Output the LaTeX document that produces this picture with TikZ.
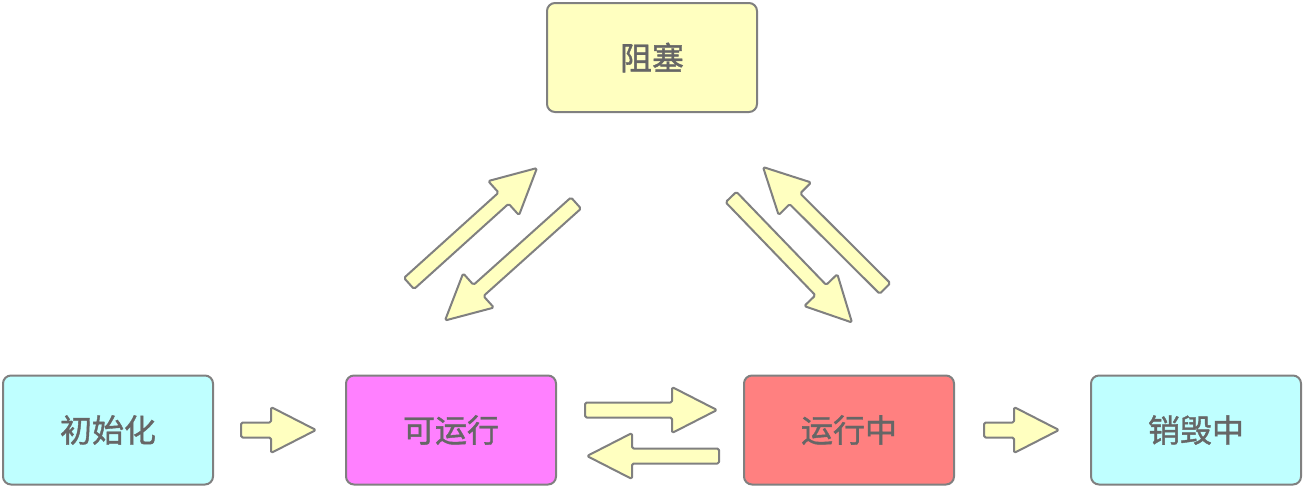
\documentclass[tikz,border=0pt]{standalone}
\usepackage{fontspec}
\newfontfamily\cjk[FakeBold=1.2]{Noto Sans CJK SC}
\usepackage{tikz}
\usetikzlibrary{calc}
\definecolor{stline}{HTML}{808080}
\definecolor{sttext}{HTML}{666666}
\definecolor{styellow}{HTML}{FFFFC0}
\definecolor{stcyan}{HTML}{BFFFFF}
\definecolor{stpink}{HTML}{FF80FF}
\definecolor{stred}{HTML}{FF8080}

% fat arrow from #1 to #2
\newcommand{\fatarrow}[2]{%
  \coordinate (hb) at ($(#2)!22.5pt!(#1)$);
  \draw[fatarr] ($(#1)!3.75pt!90:(#2)$) -- ($(hb)!3.75pt!90:(#2)$)
    -- ($(hb)!11.5pt!90:(#2)$) -- (#2) -- ($(hb)!11.5pt!-90:(#2)$)
    -- ($(hb)!3.75pt!-90:(#2)$) -- ($(#1)!3.75pt!-90:(#2)$) -- cycle;
}

\begin{document}
\begin{tikzpicture}[
  x=0.5pt, y=-0.5pt,
  state/.style={draw=stline, line width=1pt, rounded corners=4pt, minimum width=105pt, minimum height=54.5pt, font=\cjk\fontsize{16}{19}\selectfont, text=sttext},
  fatarr/.style={draw=stline, line width=1pt, fill=styellow, line join=round, rounded corners=0.8pt}
]
\useasboundingbox (0,0) rectangle (1304,488);

% States
\node[state, fill=styellow] (block) at (652,57.5) {阻塞};
\node[state, fill=stcyan] (init) at (108,430) {初始化};
\node[state, fill=stpink] (ready) at (451,430) {可运行};
\node[state, fill=stred] (running) at (849,430) {运行中};
\node[state, fill=stcyan] (destroy) at (1196,430) {销毁中};

% Arrow ends
\coordinate (a1s) at ($(init.east)+(27,0)$);
\coordinate (a1e) at ($(ready.west)+(-29,0)$);
\coordinate (a2s) at ($(ready.east)+(28,-20)$);
\coordinate (a2e) at ($(running.west)+(-26,-20)$);
\coordinate (a3s) at ($(running.west)+(-24,26)$);
\coordinate (a3e) at ($(ready.east)+(30,26)$);
\coordinate (a4s) at ($(running.east)+(29,0)$);
\coordinate (a4e) at ($(destroy.west)+(-31,0)$);
\coordinate (b1s) at ($(ready.north)+(-42,-91)$);
\coordinate (b1e) at ($(block.south)+(-115,55)$);
\coordinate (b2s) at ($(block.south)+(-76,90)$);
\coordinate (b2e) at ($(ready.north)+(-6,-54)$);
\coordinate (b3s) at ($(block.south)+(79,84)$);
\coordinate (b3e) at ($(running.north)+(3,-52)$);
\coordinate (b4s) at ($(running.north)+(36,-86)$);
\coordinate (b4e) at ($(block.south)+(111,54)$);

% Arrows
\fatarrow{a1s}{a1e}
\fatarrow{a2s}{a2e}
\fatarrow{a3s}{a3e}
\fatarrow{a4s}{a4e}
\fatarrow{b1s}{b1e}
\fatarrow{b2s}{b2e}
\fatarrow{b3s}{b3e}
\fatarrow{b4s}{b4e}

\end{tikzpicture}
\end{document}
